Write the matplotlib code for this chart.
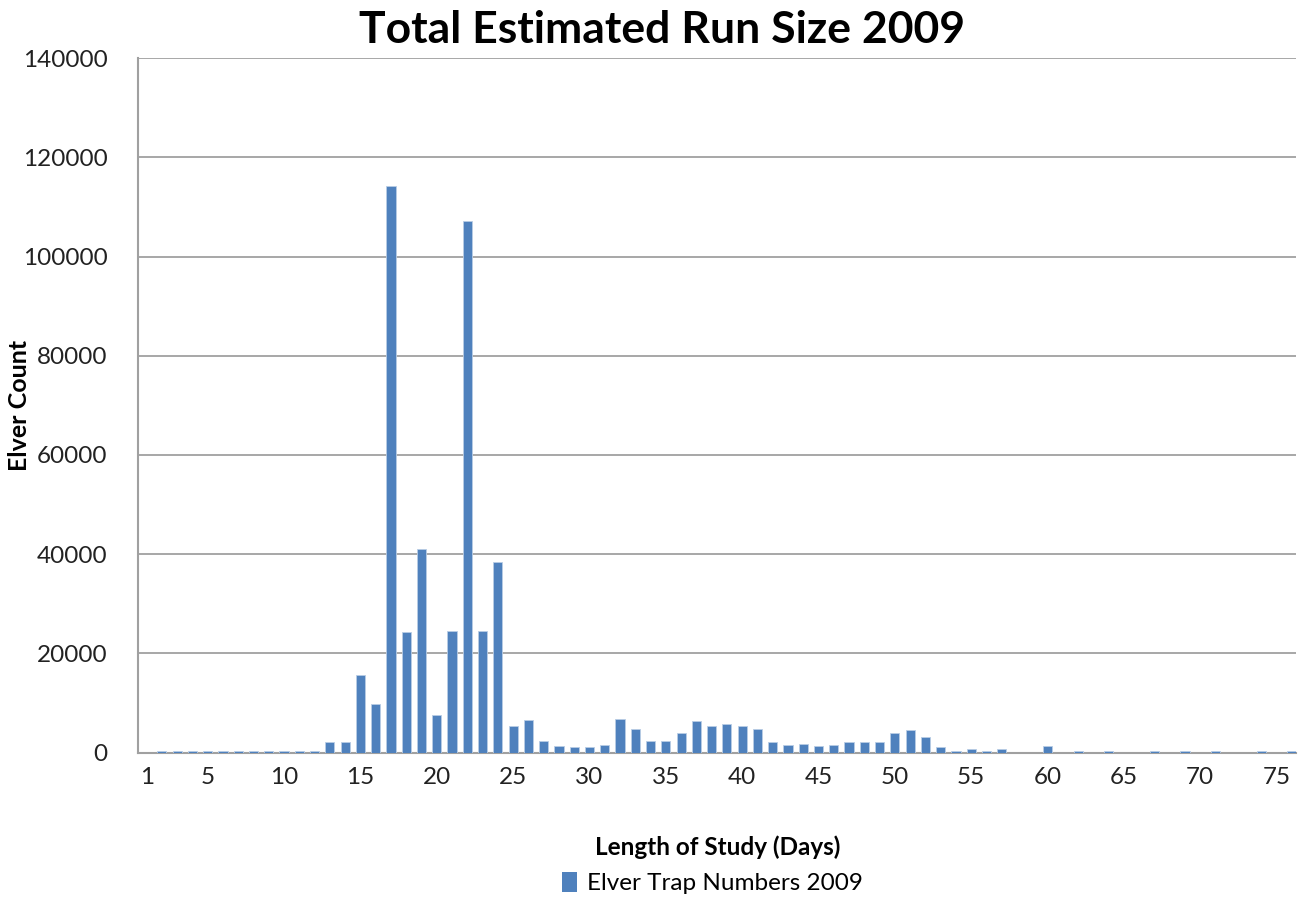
import matplotlib
matplotlib.use("Agg")
import matplotlib.pyplot as plt
from matplotlib.patches import Patch

days = list(range(1, 77))
counts = [
    0, 300, 300, 300, 300, 300, 300, 300, 300, 300,      # 1-10
    300, 300, 2100, 2200, 15600, 9900, 114300, 24400, 41100, 7600,  # 11-20
    24600, 107100, 24600, 38500, 5300, 6600, 2400, 1400, 1100, 1100,  # 21-30
    1600, 6800, 4700, 2400, 2400, 3900, 6300, 5300, 5700, 5300,  # 31-40
    4700, 2100, 1600, 1800, 1400, 1600, 2100, 2100, 2100, 3900,  # 41-50
    4500, 3200, 1100, 350, 700, 350, 700, 0, 0, 1400,     # 51-60
    0, 350, 0, 350, 0, 0, 350, 0, 350, 0,                 # 61-70
    350, 0, 0, 350, 0, 350,                               # 71-76
]
xtick_labels = [1, 5, 10, 15, 20, 25, 30, 35, 40, 45, 50, 55, 60, 65, 70, 75]
yticks = [0, 20000, 40000, 60000, 80000, 100000, 120000, 140000]

plt.rcParams['font.family'] = ['Lato', 'DejaVu Sans']

fig = plt.figure(figsize=(13.05, 9.01), dpi=100)
ax = fig.add_axes([0.1057, 0.1646, 0.8874, 0.771])

bar_color = '#4F81BD'
ax.bar(days, counts, width=0.6, color=bar_color, edgecolor='#B9CDE5',
       linewidth=0.6, zorder=3, label='Elver Trap Numbers 2009')

ax.set_xlim(0.43, 76.27)
ax.set_ylim(0, 140000)
ax.set_yticks(yticks)
ax.set_yticklabels([str(v) for v in yticks])
ax.set_xticks(xtick_labels)
ax.set_xticklabels([str(v) for v in xtick_labels])
ax.tick_params(axis='both', length=0, labelsize=17.5, colors='#222222')
ax.tick_params(axis='y', pad=22)
ax.tick_params(axis='x', pad=10)

ax.yaxis.grid(True, color='#A0A0A0', linewidth=1.3, zorder=0)
ax.set_axisbelow(True)
for s in ['top', 'right']:
    ax.spines[s].set_visible(False)
for s in ['left', 'bottom']:
    ax.spines[s].set_color('#A0A0A0')
    ax.spines[s].set_linewidth(1.5)

fig.text(0.507, 0.967, 'Total Estimated Run Size 2009', ha='center', va='center',
         fontsize=32, fontweight='bold', color='black')
fig.text(0.550, 0.060, 'Length of Study (Days)', ha='center', va='center',
         fontsize=17.5, fontweight='bold', color='black')
fig.text(0.0153, 0.55, 'Elver Count', ha='center', va='center', rotation=90,
         fontsize=18, fontweight='bold', color='black')

handles = [Patch(facecolor=bar_color, edgecolor='none')]
fig.legend(handles, ['Elver Trap Numbers 2009'], loc='center',
           bbox_to_anchor=(0.546, 0.02), frameon=False, fontsize=17.5,
           handlelength=0.6, handleheight=0.9, handletextpad=0.4)

fig.savefig('out.png', dpi=100)
